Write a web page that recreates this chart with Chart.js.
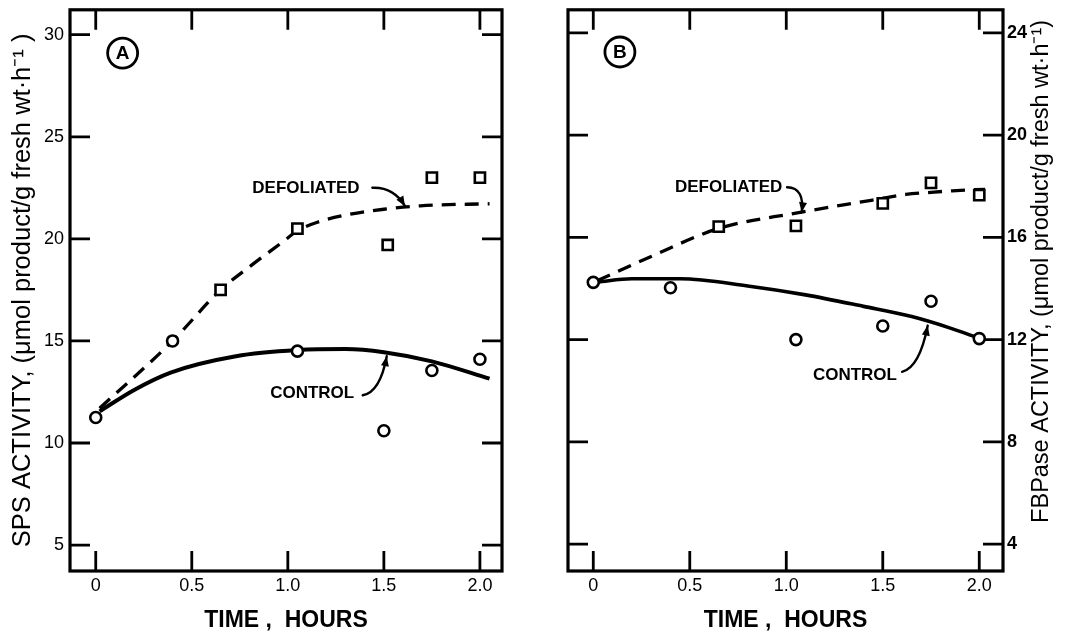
<!DOCTYPE html>
<html><head><meta charset="utf-8">
<script src="https://cdn.jsdelivr.net/npm/chart.js@4.4.1/dist/chart.umd.min.js"></script>
<style>
html,body{margin:0;padding:0;background:#fff;}
#wrap{position:relative;width:1073px;height:634px;overflow:hidden;background:#fff;}
canvas{position:absolute;top:0;}
#cA{left:0;} #cB{left:540px;}
</style></head><body>
<div id="wrap"><canvas id="cA" width="540" height="634"></canvas><canvas id="cB" width="533" height="634"></canvas></div>
<script>
// ---------- data ----------
const timeTicks = [0, 0.5, 1.0, 1.5, 2.0];
const timeTickLabels = ['0', '0.5', '1.0', '1.5', '2.0'];
const spsTicks = [5, 10, 15, 20, 25, 30];
const fbpTicks = [4, 8, 12, 16, 20, 24];

// Panel A : SPS activity
const spsControlTime = [0, 1.05, 1.5, 1.75, 2.0];
const spsControl     = [11.25, 14.5, 10.6, 13.55, 14.1];
const spsDefolTime   = [0.4, 0.65, 1.05, 1.52, 1.75, 2.0];
const spsDefol       = [15.0, 17.5, 20.5, 19.7, 23.0, 23.0];
const spsDefolMarker = ['circle', 'rect', 'rect', 'rect', 'rect', 'rect'];
const spsControlCurveTime = [0.02, 0.2, 0.39, 0.73, 1.05, 1.3, 1.5, 1.75, 2.05];
const spsControlCurve     = [11.55, 12.6, 13.45, 14.25, 14.55, 14.6, 14.45, 14.0, 13.15];
const spsDefolCurveTime   = [0.02, 0.4, 0.65, 0.81, 0.98, 1.05, 1.15, 1.32, 1.5, 1.69, 2.05];
const spsDefolCurve       = [11.7, 15.0, 17.5, 18.7, 19.9, 20.4, 20.8, 21.2, 21.45, 21.62, 21.72];

// Panel B : FBPase activity
const fbpControlTime = [0, 0.4, 1.05, 1.5, 1.75, 2.0];
const fbpControl     = [14.24, 14.03, 12.0, 12.53, 13.5, 12.04];
const fbpDefolTime   = [0.65, 1.05, 1.5, 1.75, 2.0];
const fbpDefol       = [16.42, 16.45, 17.33, 18.13, 17.65];
const fbpControlCurveTime = [0.02, 0.2, 0.45, 0.8, 1.1, 1.4, 1.65, 1.85, 2.0];
const fbpControlCurve     = [14.25, 14.38, 14.38, 14.1, 13.75, 13.3, 12.9, 12.45, 12.05];
const fbpDefolCurveTime   = [0.02, 0.3, 0.65, 1.05, 1.44, 1.62, 1.75, 1.86, 2.03];
const fbpDefolCurve       = [14.3, 15.25, 16.35, 16.95, 17.45, 17.68, 17.76, 17.82, 17.88];

// ---------- helpers ----------
const FONT = '"Liberation Sans", Arial, sans-serif';
Chart.defaults.font.family = FONT;
Chart.defaults.color = '#000';
const xy = (xs, ys) => xs.map((x, i) => ({x: x, y: ys[i]}));

const framePlugin = {
  id: 'frame',
  beforeDatasetsDraw(chart, args, o) {
    const {ctx, chartArea: {left, right, top, bottom}} = chart;
    const xs = chart.scales.x, ys = chart.scales.y;
    ctx.save();
    ctx.strokeStyle = '#000';
    ctx.lineWidth = 3.2;
    ctx.strokeRect(left, top, right - left, bottom - top);
    ctx.lineWidth = 2.8;
    ctx.beginPath();
    for (const v of o.xTicks) {
      const px = xs.getPixelForValue(v);
      ctx.moveTo(px, bottom); ctx.lineTo(px, bottom - o.len);
      ctx.moveTo(px, top); ctx.lineTo(px, top + o.len);
    }
    for (const v of o.yTicks) {
      const py = ys.getPixelForValue(v);
      ctx.moveTo(left, py); ctx.lineTo(left + o.len, py);
      ctx.moveTo(right, py); ctx.lineTo(right - o.len, py);
    }
    ctx.stroke();
    ctx.restore();
  }
};

const annoPlugin = {
  id: 'anno',
  afterDatasetsDraw(chart, args, o) {
    const {ctx} = chart;
    const xs = chart.scales.x, ys = chart.scales.y;
    const P = p => [xs.getPixelForValue(p[0]), ys.getPixelForValue(p[1])];
    ctx.save();
    ctx.fillStyle = '#000'; ctx.strokeStyle = '#000';
    ctx.font = 'bold ' + o.labelSize + 'px ' + FONT;
    ctx.textBaseline = 'middle'; ctx.textAlign = 'left';
    for (const t of o.labels) { const [x, y] = P(t.at); ctx.fillText(t.text, x, y); }
    ctx.lineWidth = 2.4; ctx.lineCap = 'round';
    for (const a of o.arrows) {
      const pts = a.map(P);
      ctx.beginPath();
      ctx.moveTo(pts[0][0], pts[0][1]);
      if (pts.length === 3) ctx.quadraticCurveTo(pts[1][0], pts[1][1], pts[2][0], pts[2][1]);
      else ctx.bezierCurveTo(pts[1][0], pts[1][1], pts[2][0], pts[2][1], pts[3][0], pts[3][1]);
      ctx.stroke();
      const e = pts[pts.length - 1], c = pts[pts.length - 2];
      const ang = Math.atan2(e[1] - c[1], e[0] - c[0]);
      const L = 10, W = 4;
      ctx.beginPath();
      ctx.moveTo(e[0], e[1]);
      ctx.lineTo(e[0] - L * Math.cos(ang) + W * Math.sin(ang), e[1] - L * Math.sin(ang) - W * Math.cos(ang));
      ctx.lineTo(e[0] - L * Math.cos(ang) - W * Math.sin(ang), e[1] - L * Math.sin(ang) + W * Math.cos(ang));
      ctx.closePath(); ctx.fill();
    }
    const [cx, cy] = P(o.badge.at);
    ctx.lineWidth = 2.8;
    ctx.beginPath(); ctx.arc(cx, cy, 15, 0, Math.PI * 2); ctx.stroke();
    ctx.font = 'bold 19px ' + FONT; ctx.textAlign = 'center';
    ctx.fillText(o.badge.text, cx, cy + 1);
    ctx.restore();
  }
};

const rightTitlePlugin = {
  id: 'rtitle',
  afterDraw(chart, args, o) {
    if (!o.text) return;
    const {ctx, chartArea} = chart;
    const ys = chart.scales.y;
    ctx.save();
    ctx.translate(ys.right - o.offset, (chartArea.top + chartArea.bottom) / 2 + o.dy);
    ctx.rotate(-Math.PI / 2);
    ctx.font = o.size + 'px ' + FONT;
    ctx.fillStyle = '#000';
    ctx.textAlign = 'center'; ctx.textBaseline = 'middle';
    ctx.fillText(o.text, 0, 0);
    ctx.restore();
  }
};

function pointSet(label, data, style, order) {
  return {
    label, data, showLine: false, order,
    pointStyle: style,
    pointRadius: ctx => {
      const s = Array.isArray(style) ? style[ctx.dataIndex] : style;
      return s === 'rect' ? 7.2 : 5.5;
    },
    pointBorderWidth: 2.6,
    pointBorderColor: '#000',
    pointBackgroundColor: '#fff'
  };
}
function curveSet(label, data, width, dash, order) {
  return {
    label, data, showLine: true, order,
    borderColor: '#000', borderWidth: width, borderDash: dash,
    pointRadius: 0, cubicInterpolationMode: 'monotone', fill: false
  };
}

function makeChart(el, cfg) {
  return new Chart(el, {
    type: 'scatter',
    data: {datasets: cfg.datasets},
    options: {
      responsive: false, animation: false,
      layout: {padding: cfg.padding},
      plugins: {
        legend: {display: false}, tooltip: {enabled: false},
        frame: {xTicks: timeTicks, yTicks: cfg.yTicks, len: 20},
        anno: cfg.anno,
        rtitle: cfg.rtitle || {}
      },
      scales: {
        x: {
          type: 'linear', position: 'bottom', min: cfg.xMin, max: cfg.xMax,
          grid: {display: false, drawTicks: false}, border: {display: false},
          afterBuildTicks: s => { s.ticks = timeTicks.map(v => ({value: v})); },
          afterFit: s => { s.height = 63; s.paddingLeft = 0; s.paddingRight = 0; },
          ticks: {
            font: {size: 18}, color: '#000', padding: 4, maxRotation: 0, autoSkip: false,
            callback: v => { const i = timeTicks.indexOf(v); return i >= 0 ? timeTickLabels[i] : ''; }
          },
          title: {display: true, text: 'TIME ,  HOURS', font: {size: 23, weight: 'bold'}, color: '#000', padding: {top: 0, bottom: 0}}
        },
        y: {
          type: 'linear', position: cfg.yPos, min: cfg.yMin, max: cfg.yMax,
          grid: {display: false, drawTicks: false}, border: {display: false},
          afterBuildTicks: s => { s.ticks = cfg.yTicks.map(v => ({value: v})); },
          afterFit: s => { s.width = 70; s.paddingTop = 0; s.paddingBottom = 0; },
          ticks: {font: {size: 18, weight: cfg.yBold ? 'bold' : 'normal'}, color: '#000', padding: cfg.yPad, autoSkip: false},
          title: cfg.yTitle ? {display: true, text: cfg.yTitle, font: {size: 25.5}, color: '#000', padding: {top: 8, bottom: 0}} : {display: false}
        }
      }
    },
    plugins: [framePlugin, annoPlugin, rightTitlePlugin]
  });
}

makeChart(document.getElementById('cA'), {
  padding: {top: 8, right: 38, left: 0, bottom: 0},
  xMin: -0.134, xMax: 2.115, yMin: 3.73, yMax: 31.22,
  yTicks: spsTicks, yPos: 'left', yPad: 6, yBold: false,
  yTitle: 'SPS ACTIVITY, (\u03bcmol product/g fresh wt\u00b7h\u207b\u00b9 )',
  datasets: [
    pointSet('Control', xy(spsControlTime, spsControl), 'circle', 1),
    pointSet('Defoliated', xy(spsDefolTime, spsDefol), spsDefolMarker, 1),
    curveSet('Control fit', xy(spsControlCurveTime, spsControlCurve), 4, [], 2),
    curveSet('Defoliated fit', xy(spsDefolCurveTime, spsDefolCurve), 3.3, [14, 9], 2)
  ],
  anno: {
    labelSize: 17,
    labels: [{text: 'DEFOLIATED', at: [0.815, 22.5]}, {text: 'CONTROL', at: [0.908, 12.42]}],
    arrows: [
      [[1.44, 22.5], [1.55, 22.55], [1.61, 21.6]],
      [[1.39, 12.34], [1.48, 12.48], [1.515, 14.25]]
    ],
    badge: {text: 'A', at: [0.14, 29.1]}
  }
});

makeChart(document.getElementById('cB'), {
  padding: {top: 7, right: 0, left: 28, bottom: 0},
  xMin: -0.131, xMax: 2.123, yMin: 2.95, yMax: 24.9,
  yTicks: fbpTicks, yPos: 'right', yPad: 4, yBold: true,
  yTitle: null,
  rtitle: {text: 'FBPase ACTIVITY, (\u03bcmol product/g fresh wt\u00b7h\u207b\u00b9)', size: 23.5, offset: 31, dy: -19},
  datasets: [
    pointSet('Control', xy(fbpControlTime, fbpControl), 'circle', 1),
    pointSet('Defoliated', xy(fbpDefolTime, fbpDefol), 'rect', 1),
    curveSet('Control fit', xy(fbpControlCurveTime, fbpControlCurve), 3.6, [], 2),
    curveSet('Defoliated fit', xy(fbpDefolCurveTime, fbpDefolCurve), 3.3, [14, 9], 2)
  ],
  anno: {
    labelSize: 17,
    labels: [{text: 'DEFOLIATED', at: [0.423, 17.96]}, {text: 'CONTROL', at: [1.138, 10.62]}],
    arrows: [
      [[1.004, 17.96], [1.07, 17.96], [1.09, 17.55], [1.08, 16.98]],
      [[1.60, 10.74], [1.69, 10.9], [1.733, 12.55]]
    ],
    badge: {text: 'B', at: [0.138, 23.25]}
  }
});
</script>
</body></html>
